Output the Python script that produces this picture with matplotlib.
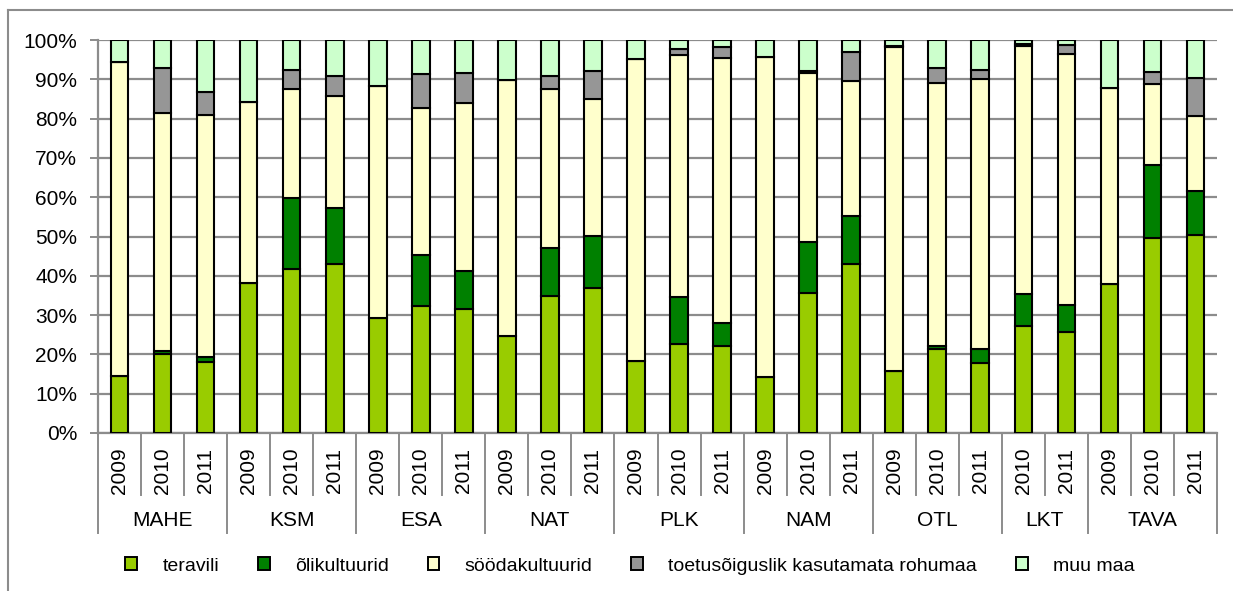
import numpy as np
import matplotlib
matplotlib.use('Agg')
import matplotlib.pyplot as plt
from matplotlib.patches import Patch
from matplotlib.lines import Line2D
import matplotlib.transforms as mtransforms

plt.rcParams['font.family'] = ['Liberation Sans', 'DejaVu Sans']

groups = ['MAHE', 'KSM', 'ESA', 'NAT', 'PLK', 'NAM', 'OTL', 'LKT', 'TAVA']
group_years = [
    ['2009', '2010', '2011'], ['2009', '2010', '2011'], ['2009', '2010', '2011'],
    ['2009', '2010', '2011'], ['2009', '2010', '2011'], ['2009', '2010', '2011'],
    ['2009', '2010', '2011'], ['2010', '2011'], ['2009', '2010', '2011'],
]

teravili = [14.5, 20.1, 18.1, 38.2, 41.8, 42.9, 29.3, 32.3, 31.6, 24.8, 34.8, 36.8, 18.3,
            22.7, 22.2, 14.2, 35.7, 43.1, 15.8, 21.4, 17.7, 27.2, 25.7, 37.9, 49.7, 50.3]
olikultuurid = [0, 0.8, 1.3, 0, 18.1, 14.4, 0, 13.0, 9.7, 0, 12.3, 13.3, 0,
                11.9, 5.9, 0, 12.9, 12.2, 0, 0.8, 3.8, 8.2, 6.9, 0, 18.4, 11.3]
soodakultuurid = [79.9, 60.6, 61.6, 45.9, 27.6, 28.4, 58.9, 37.3, 42.7, 65.1, 40.4, 34.9, 76.9,
                  61.7, 67.2, 81.4, 43.0, 34.3, 82.3, 66.8, 68.6, 63.1, 63.8, 50.0, 20.8, 19.1]
rohumaa = [0, 11.5, 5.7, 0, 4.9, 5.1, 0, 8.8, 7.7, 0, 3.3, 7.2, 0,
           1.3, 2.9, 0, 0.4, 7.3, 0.3, 4.0, 2.2, 0.5, 2.3, 0, 3.0, 9.6]
muu_maa = [5.6, 7.0, 13.3, 15.9, 7.6, 9.2, 11.8, 8.6, 8.3, 10.1, 9.2, 7.8, 4.8,
           2.4, 1.8, 4.4, 8.0, 3.1, 1.6, 7.0, 7.7, 1.0, 1.3, 12.1, 8.1, 9.7]

series = [
    ('teravili', teravili, '#99CC00'),
    ('õlikultuurid', olikultuurid, '#008000'),
    ('söödakultuurid', soodakultuurid, '#FFFFCC'),
    ('toetusõiguslik kasutamata rohumaa', rohumaa, '#969696'),
    ('muu maa', muu_maa, '#CCFFCC'),
]

W, H = 1233, 591
fig = plt.figure(figsize=(W / 100, H / 100), dpi=100)
ax = fig.add_axes([98 / W, 1 - 433 / H, (1217 - 98) / W, (433 - 40) / H])

grid_col = '#8c8c8c'
n = len(teravili)
x = np.arange(n)
bottom = np.zeros(n)
handles = []
for name, vals, col in series:
    v = np.array(vals, dtype=float)
    ax.bar(x, v, 0.41, bottom=bottom, color=col, edgecolor='black', linewidth=1.5, zorder=3)
    bottom += v
    handles.append(Patch(facecolor=col, edgecolor='black', linewidth=1.4, label=name))

ax.set_xlim(-0.5, n - 0.5)
ax.set_ylim(0, 100)
ax.set_yticks(np.arange(0, 101, 10))
ax.set_yticklabels([f'{t}%' for t in range(0, 101, 10)], fontsize=15)
ax.yaxis.grid(True, color=grid_col, linewidth=1.6, zorder=0)
ax.tick_params(axis='y', length=6, width=1.4, color=grid_col, pad=9)
ax.set_xticks([])
for s in ['top', 'right']:
    ax.spines[s].set_visible(False)
for s in ['left', 'bottom']:
    ax.spines[s].set_color(grid_col)
    ax.spines[s].set_linewidth(1.6)

# multi-level category axis
trans = mtransforms.blended_transform_factory(ax.transData, ax.transAxes)
pos = 0
ax.plot([-0.5, -0.5], [0, -0.254], transform=trans, color=grid_col, lw=1.4, clip_on=False)
for g, yrs in zip(groups, group_years):
    for k, yr in enumerate(yrs):
        ax.text(pos + k, -0.095, yr, transform=trans, rotation=90, ha='center', va='center', fontsize=15)
        if k < len(yrs) - 1:
            ax.plot([pos + k + 0.5] * 2, [0, -0.158], transform=trans, color=grid_col, lw=1.4, clip_on=False)
    ax.text(pos + (len(yrs) - 1) / 2, -0.222, g, transform=trans, ha='center', va='center', fontsize=15)
    pos += len(yrs)
    ax.plot([pos - 0.5] * 2, [0, -0.254], transform=trans, color=grid_col, lw=1.4, clip_on=False)

fig.legend(handles=handles, loc='center', bbox_to_anchor=(630 / W, 1 - 566 / H), ncol=5,
           frameon=False, fontsize=14, handlelength=0.6, handleheight=0.6,
           handletextpad=1.3, columnspacing=2.0)

# outer chart frame
fig.add_artist(Line2D([8 / W, 8 / W], [0, 1 - 10 / H], color=grid_col, lw=1.5))
fig.add_artist(Line2D([8 / W, 1], [1 - 10 / H, 1 - 10 / H], color=grid_col, lw=1.5))

fig.savefig('out.png', dpi=100)
